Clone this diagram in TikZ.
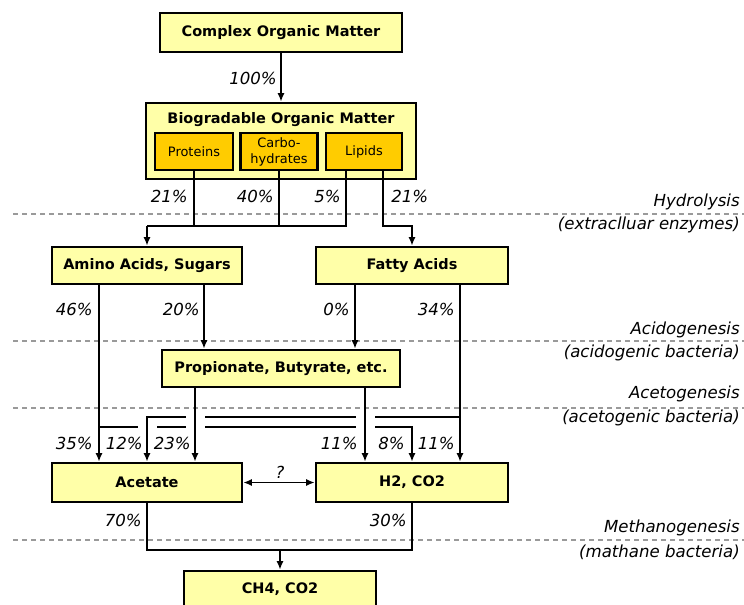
\documentclass[tikz,border=0pt]{standalone}
\usepackage{fontspec}
\setmainfont{DejaVu Sans}
\usetikzlibrary{arrows.meta}
\pgfdeclarelayer{bg}
\pgfsetlayers{bg,main}
\definecolor{paleyellow}{HTML}{FFFFA8}
\definecolor{deepyellow}{HTML}{FFCC00}
\definecolor{levelgray}{HTML}{9A9A9A}
\tikzset{
    stage/.style={rectangle, draw, line width=1.9pt, fill=paleyellow, minimum height=0.925cm,
        inner sep=0mm, font=\fontsize{10.3}{12}\selectfont\bfseries},
    part/.style={rectangle, draw, line width=1.5pt, fill=deepyellow, minimum height=0.925cm,
        inner sep=0mm, align=center, font=\fontsize{9.2}{11.4}\selectfont},
    pct/.style={anchor=east, inner sep=0mm, font=\fontsize{11.8}{14}\selectfont\itshape},
    phase/.style={anchor=east, inner sep=0mm, font=\fontsize{11.8}{14}\selectfont\itshape},
    flow/.style={line width=1.35pt},
    level/.style={levelgray, line width=0.8pt, dash pattern=on 0.125cm off 0.1cm},
    gap/.style={rectangle, fill=white, inner sep=0mm, minimum width=0.475cm}
}

\begin{document}
\begin{tikzpicture}[>={Latex[length=6pt, width=5pt]}]
    \useasboundingbox (0cm, 0cm) rectangle (18.6cm, -15.1cm);
    \clip (0cm, 0cm) rectangle (18.6cm, -15.1cm);

    \begin{pgfonlayer}{bg}
        \draw[level] (0.325cm, -5.35cm) -- (18.6cm, -5.35cm);
        \draw[level] (0.325cm, -8.525cm) -- (18.6cm, -8.525cm);
        \draw[level] (0.325cm, -10.2cm) -- (18.6cm, -10.2cm);
        \draw[level] (0.325cm, -13.5cm) -- (18.6cm, -13.5cm);
    \end{pgfonlayer}

    \node (hyd) at (18.5cm, -5.05cm) [phase] {Hydrolysis};
    \node (hydb) at (18.5cm, -5.625cm) [phase] {(extraclluar enzymes)};
    \node (acd) at (18.5cm, -8.25cm) [phase] {Acidogenesis};
    \node (acdb) at (18.5cm, -8.825cm) [phase] {(acidogenic bacteria)};
    \node (act) at (18.5cm, -9.85cm) [phase] {Acetogenesis};
    \node (actb) at (18.5cm, -10.45cm) [phase] {(acetogenic bacteria)};
    \node (met) at (18.5cm, -13.2cm) [phase] {Methanogenesis};
    \node (metb) at (18.5cm, -13.8cm) [phase] {(mathane bacteria)};

    \node (com) at (7.025cm, -0.8125cm) [stage, minimum width=6.05cm, minimum height=0.975cm] {Complex Organic Matter};
    \node (bio) at (7.025cm, -3.525cm) [stage, minimum width=6.75cm, minimum height=1.9cm] {};
    \node (biot) at (7.025cm, -3.0cm) [font=\fontsize{10.3}{12}\selectfont\bfseries] {Biogradable Organic Matter};
    \node (prot) at (4.85cm, -3.7875cm) [part, minimum width=1.95cm] {Proteins};
    \node (carb) at (6.975cm, -3.7875cm) [part, minimum width=1.925cm] {Carbo-\\hydrates};
    \node (lip) at (9.1cm, -3.7875cm) [part, minimum width=1.9cm] {Lipids};

    \node (amino) at (3.675cm, -6.6375cm) [stage, minimum width=4.75cm] {Amino Acids, Sugars};
    \node (fatty) at (10.3cm, -6.6375cm) [stage, minimum width=4.8cm] {Fatty Acids};
    \node (prop) at (7.025cm, -9.2125cm) [stage, minimum width=5.95cm] {Propionate, Butyrate, etc.};
    \node (acet) at (3.675cm, -12.0625cm) [stage, minimum width=4.75cm, minimum height=0.975cm] {Acetate};
    \node (h2) at (10.3cm, -12.0625cm) [stage, minimum width=4.8cm, minimum height=0.975cm] {H2, CO2};
    \node (ch4) at (7.0cm, -14.725cm) [stage, minimum width=4.8cm, minimum height=0.9cm] {CH4, CO2};

    \draw[flow, ->] (com) -- (bio);

    \coordinate (li1) at ([xshift=-0.45cm]lip.south);
    \coordinate (li2) at ([xshift=0.475cm]lip.south);
    \coordinate (hj) at (3.675cm, -5.65cm);
    \coordinate (fj) at (10.3cm, -5.65cm);
    \draw[flow] (prot.south) |- (hj);
    \draw[flow] (carb.south) -- (carb.south |- hj);
    \draw[flow] (li1) |- (hj);
    \draw[flow, ->] (hj) -- (amino.north);
    \draw[flow, ->] (li2) |- (fj) -- (fatty.north);

    \coordinate (am1) at ([xshift=-1.2cm]amino.south);
    \coordinate (am2) at ([xshift=1.425cm]amino.south);
    \coordinate (fa1) at ([xshift=-1.425cm]fatty.south);
    \coordinate (fa2) at ([xshift=1.2cm]fatty.south);
    \draw[flow, ->] (am1) -- (am1 |- acet.north);
    \draw[flow, ->] (am2) -- (am2 |- prop.north);
    \draw[flow, ->] (fa1) -- (fa1 |- prop.north);
    \draw[flow, ->] (fa2) -- (fa2 |- h2.north);

    \coordinate (xa) at (11.5cm, -10.425cm);
    \coordinate (xb) at (2.475cm, -10.675cm);
    \draw[flow, ->] (xb) -| (h2.north);
    \node (g1) at (3.675cm, -10.675cm) [gap, minimum height=0.3cm] {};
    \draw[flow, ->] (xa) -| (acet.north);

    \coordinate (pr1) at ([xshift=-2.15cm]prop.south);
    \coordinate (pr2) at ([xshift=2.1cm]prop.south);
    \node (g2) at (pr1 |- 0cm, -10.55cm) [gap, minimum height=0.5cm] {};
    \node (g3) at (pr2 |- 0cm, -10.55cm) [gap, minimum height=0.5cm] {};
    \draw[flow, ->] (pr1) -- (pr1 |- acet.north);
    \draw[flow, ->] (pr2) -- (pr2 |- h2.north);

    \draw[flow, <->] (acet.east) -- (h2.west);
    \node (q) at (7.0cm, -11.8cm) [pct, anchor=center] {?};

    \coordinate (mj) at (7.0cm, -13.75cm);
    \draw[flow] (acet.south) |- (mj);
    \draw[flow] (h2.south) |- (mj);
    \draw[flow, ->] (mj) -- (ch4.north);

    \node (p100) at (6.925cm, -1.95cm) [pct] {100\%};
    \node (p21a) at (4.7cm, -4.9cm) [pct] {21\%};
    \node (p40) at (6.85cm, -4.9cm) [pct] {40\%};
    \node (p5) at (8.525cm, -4.9cm) [pct] {5\%};
    \node (p21b) at (9.775cm, -4.9cm) [pct, anchor=west] {21\%};
    \node (p46) at (2.325cm, -7.725cm) [pct] {46\%};
    \node (p20) at (5.0cm, -7.725cm) [pct] {20\%};
    \node (p0) at (8.75cm, -7.725cm) [pct] {0\%};
    \node (p34) at (11.375cm, -7.725cm) [pct] {34\%};
    \node (p35) at (2.325cm, -11.075cm) [pct] {35\%};
    \node (p12) at (3.575cm, -11.075cm) [pct] {12\%};
    \node (p23) at (4.775cm, -11.075cm) [pct] {23\%};
    \node (p11a) at (8.95cm, -11.075cm) [pct] {11\%};
    \node (p8) at (10.125cm, -11.075cm) [pct] {8\%};
    \node (p11b) at (11.375cm, -11.075cm) [pct] {11\%};
    \node (p70) at (3.55cm, -13.0cm) [pct] {70\%};
    \node (p30) at (10.175cm, -13.0cm) [pct] {30\%};
\end{tikzpicture}
\end{document}
